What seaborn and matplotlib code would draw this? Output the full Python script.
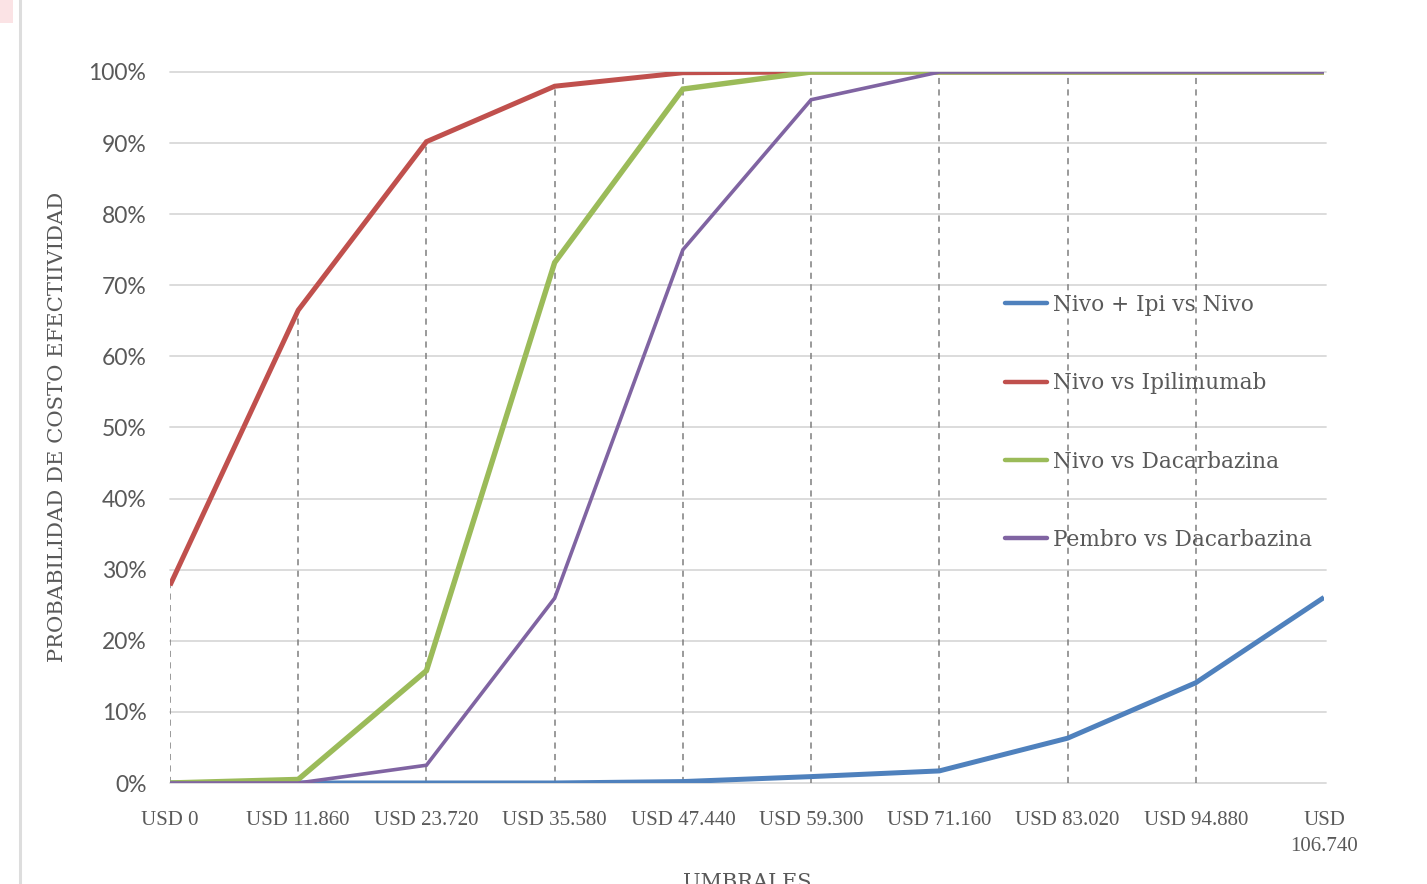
import numpy as np
import pandas as pd
import matplotlib
matplotlib.use("Agg")
import matplotlib.pyplot as plt
from matplotlib.lines import Line2D
from matplotlib.patches import Rectangle
import seaborn as sns

# Willingness-to-pay thresholds (USD) and acceptability curves (%)
umbrales = ["USD 0", "USD 11.860", "USD 23.720", "USD 35.580", "USD 47.440",
            "USD 59.300", "USD 71.160", "USD 83.020", "USD 94.880", "USD\n106.740"]
series_names = ["Nivo + Ipi vs Nivo", "Nivo vs Ipilimumab",
                "Nivo vs Dacarbazina", "Pembro vs Dacarbazina"]
nivo_ipi_vs_nivo = [0.0, 0.0, 0.0, 0.0, 0.2, 0.9, 1.7, 6.3, 14.1, 26.1]
nivo_vs_ipilimumab = [27.8, 66.5, 90.2, 98.0, 99.9, 100.0, 100.0, 100.0, 100.0, 100.0]
nivo_vs_dacarbazina = [0.0, 0.5, 15.8, 73.2, 97.6, 100.0, 100.0, 100.0, 100.0, 100.0]
pembro_vs_dacarbazina = [0.0, 0.0, 2.5, 26.0, 75.0, 96.1, 100.0, 100.0, 100.0, 100.0]
y_ticks = [0, 10, 20, 30, 40, 50, 60, 70, 80, 90, 100]

colors = ["#4F81BD", "#C0504D", "#9BBB59", "#8064A2"]
widths = [3.6, 3.6, 3.9, 2.6]

values = [nivo_ipi_vs_nivo, nivo_vs_ipilimumab, nivo_vs_dacarbazina, pembro_vs_dacarbazina]
rows = []
for name, vals in zip(series_names, values):
    for i, v in enumerate(vals):
        rows.append({"idx": i, "prob": v, "serie": name})
df = pd.DataFrame(rows)

sns.set_theme(style="white")
plt.rcParams["font.family"] = ["DejaVu Sans"]

fig = plt.figure(figsize=(14.27, 8.84), dpi=100)
ax = fig.add_axes([170 / 1427, 1 - 783 / 884, (1324 - 170) / 1427, (783 - 72) / 884])

# horizontal gridlines
for t in y_ticks:
    ax.axhline(t, color="#D9D9D9", lw=1.3, zorder=0, xmax=1.0015, clip_on=False)

# drop lines from the highest curve down to the axis (the last one sits on the plot edge)
tops = np.max(np.array(values), axis=0)
xs = np.arange(len(umbrales))
ax.vlines(xs[:-1], 0, tops[:-1], colors="#7F7F7F", linestyles=(0, (4, 3.5)),
          lw=1.1, zorder=1)

n_before = len(ax.get_lines())
sns.lineplot(data=df, x="idx", y="prob", hue="serie", hue_order=series_names,
             palette=colors, sort=False, ax=ax, legend=False, zorder=3)
for line, w in zip(ax.get_lines()[n_before:], widths):
    line.set_linewidth(w)
    line.set_solid_capstyle("butt")
    line.set_solid_joinstyle("miter")

ax.set_xlim(0, len(umbrales) - 1)
ax.set_ylim(0, 100)
ax.set_xticks(xs)
ax.set_xticklabels(umbrales, family="Liberation Serif", fontsize=15, color="#595959",
                   linespacing=1.45)
ax.set_yticks(y_ticks)
ax.set_yticklabels([f"{t}%" for t in y_ticks], family="Lato", fontsize=16.5, color="#595959")
ax.tick_params(axis="x", length=0, pad=20.5)
ax.tick_params(axis="y", length=0, pad=17)
for s in ax.spines.values():
    s.set_visible(False)
ax.set_xlabel("")
ax.set_ylabel("")

fig.text(58 / 1427, 1 - 427 / 884, "PROBABILIDAD DE COSTO EFECTIIVIDAD", rotation=90,
         ha="center", va="center", family="DejaVu Serif", fontsize=15.2, color="#595959")
fig.text(747 / 1427, -4 / 884, "UMBRALES", ha="center", va="baseline",
         family="DejaVu Serif", fontsize=15, color="#595959")

handles = [Line2D([0], [0], color=c, lw=3.2) for c in colors]
leg = fig.legend(handles, series_names, loc="upper left",
                 bbox_to_anchor=(1005 / 1427, 1 - 294 / 884), frameon=False,
                 prop={"family": "DejaVu Serif", "size": 15.6}, labelspacing=2.6,
                 handlelength=1.95, handletextpad=0.25, borderpad=0, borderaxespad=0)
for txt in leg.get_texts():
    txt.set_color("#595959")

# chart-area border and corner mark
fig.add_artist(Line2D([20 / 1427, 20 / 1427], [0, 1], color="#DDDDDD", lw=2.2))
fig.add_artist(Rectangle((0, 1 - 23 / 884), 13 / 1427, 23 / 884, color="#FBE3E5", lw=0))

fig.savefig("out.png", dpi=100, facecolor="white")
